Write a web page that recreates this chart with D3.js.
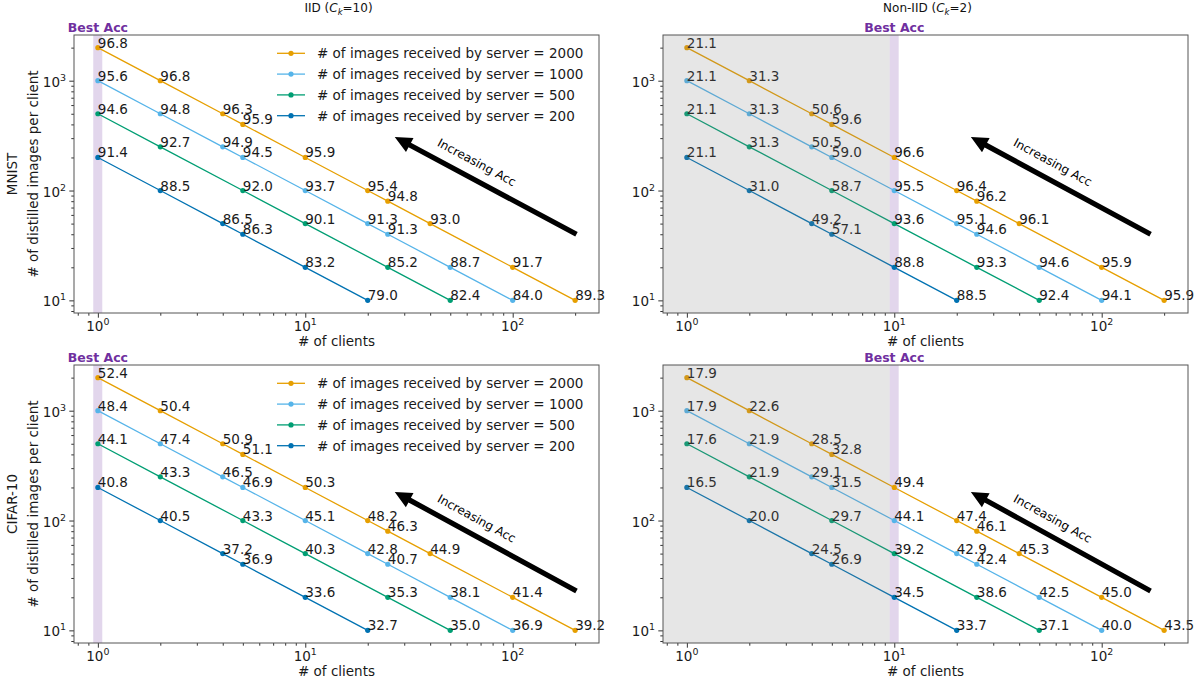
<!DOCTYPE html>
<html><head><meta charset="utf-8">
<script src="https://cdn.jsdelivr.net/npm/d3@7"></script>
<style>body{margin:0;background:#fff;} svg{display:block;font-family:"DejaVu Sans",sans-serif;}</style>
</head><body><svg id="c" width="1196" height="680"></svg>
<script>
// ---------- data ----------
const serverTotals = [2000, 1000, 500, 200];
const seriesColors = ["#E69F00", "#56B4E9", "#009E73", "#0072B2"];
const clients2000 = [1, 2, 4, 5, 10, 20, 25, 40, 100, 200];
const perClient2000 = [2000, 1000, 500, 400, 200, 100, 80, 50, 20, 10];
const clients1000 = [1, 2, 4, 5, 10, 20, 25, 50, 100];
const perClient1000 = [1000, 500, 250, 200, 100, 50, 40, 20, 10];
const clients500 = [1, 2, 5, 10, 25, 50];
const perClient500 = [500, 250, 100, 50, 20, 10];
const clients200 = [1, 2, 4, 5, 10, 20];
const perClient200 = [200, 100, 50, 40, 20, 10];

const accMnistIid = [
  [96.8, 96.8, 96.3, 95.9, 95.9, 95.4, 94.8, 93.0, 91.7, 89.3],
  [95.6, 94.8, 94.9, 94.5, 93.7, 91.3, 91.3, 88.7, 84.0],
  [94.6, 92.7, 92.0, 90.1, 85.2, 82.4],
  [91.4, 88.5, 86.5, 86.3, 83.2, 79.0]
];
const accMnistNonIid = [
  [21.1, 31.3, 50.6, 59.6, 96.6, 96.4, 96.2, 96.1, 95.9, 95.9],
  [21.1, 31.3, 50.5, 59.0, 95.5, 95.1, 94.6, 94.6, 94.1],
  [21.1, 31.3, 58.7, 93.6, 93.3, 92.4],
  [21.1, 31.0, 49.2, 57.1, 88.8, 88.5]
];
const accCifarIid = [
  [52.4, 50.4, 50.9, 51.1, 50.3, 48.2, 46.3, 44.9, 41.4, 39.2],
  [48.4, 47.4, 46.5, 46.9, 45.1, 42.8, 40.7, 38.1, 36.9],
  [44.1, 43.3, 43.3, 40.3, 35.3, 35.0],
  [40.8, 40.5, 37.2, 36.9, 33.6, 32.7]
];
const accCifarNonIid = [
  [17.9, 22.6, 28.5, 32.8, 49.4, 47.4, 46.1, 45.3, 45.0, 43.5],
  [17.9, 21.9, 29.1, 31.5, 44.1, 42.9, 42.4, 42.5, 40.0],
  [17.6, 21.9, 29.7, 39.2, 38.6, 37.1],
  [16.5, 20.0, 24.5, 26.9, 34.5, 33.7]
];

const xMajorTicks = [1, 10, 100];
const yMajorTicks = [10, 100, 1000];
const columnNames = ["IID", "Non-IID"];
const columnCk = ["10", "2"];
const rowNames = ["MNIST", "CIFAR-10"];
const bestClients = [1, 10];
const bestBand = [[0.95, 1.05], [9.5, 10.5]];
// arrows: [tailX, tailY, headX, headY, textX, textY] per panel (row, col)
const arrowTop = [[203, 40, 27, 307, 67, 180], [172, 40, 23.4, 307, 58, 180]];
const arrowBottom = [[203, 22.8, 27, 182, 67, 104], [172, 22.8, 23.4, 182, 58, 104]];

// ---------- layout ----------
const svg = d3.select("#c");
const cols = [{left: 74, width: 525}, {left: 663, width: 525}];
const rows = [{top: 35, height: 278}, {top: 365, height: 278}];
const seriesClients = [clients2000, clients1000, clients500, clients200];
const seriesPer = [perClient2000, perClient1000, perClient500, perClient200];
const panelAcc = [[accMnistIid, accMnistNonIid], [accCifarIid, accCifarNonIid]];
const panelArrows = [arrowTop, arrowBottom];

const FS = 13.5;
const xlo = Math.log10(1), xhi = Math.log10(200), xm = 0.05 * (xhi - xlo);
const ylo = Math.log10(10), yhi = Math.log10(2000), ym = 0.05 * (yhi - ylo);
const fmt = d3.format(".1f");

function minorTicks(lo, hi) {
  const out = [];
  for (let e = -1; e <= 4; e++) for (let m = 2; m <= 9; m++) {
    const v = m * Math.pow(10, e);
    if (v >= lo && v <= hi) out.push(v);
  }
  return out;
}

function powLabel(g, exp) {
  g.append("tspan").text("10");
  g.append("tspan").attr("font-size", FS * 0.7).attr("dy", -6).text(exp);
}

// column titles
columnNames.forEach((name, c) => {
  const t = svg.append("text").attr("x", cols[c].left + cols[c].width / 2 + 2).attr("y", 12)
    .attr("text-anchor", "middle").attr("font-size", 12).attr("fill", "#111");
  t.append("tspan").text(name + " (");
  t.append("tspan").attr("font-style", "italic").text("C");
  t.append("tspan").attr("font-style", "italic").attr("font-size", 8.5).attr("dy", 3).text("k");
  t.append("tspan").attr("dy", -3).text("=" + columnCk[c] + ")");
});

rows.forEach((R, r) => {
  cols.forEach((C, c) => {
    const x = d3.scaleLog().domain([Math.pow(10, xlo - xm), Math.pow(10, xhi + xm)]).range([C.left, C.left + C.width]);
    const y = d3.scaleLog().domain([Math.pow(10, ylo - ym), Math.pow(10, yhi + ym)]).range([R.top + R.height, R.top]);
    const g = svg.append("g");
    const acc = panelAcc[r][c];

    // best band
    g.append("rect").attr("x", x(bestBand[c][0])).attr("width", x(bestBand[c][1]) - x(bestBand[c][0]))
      .attr("y", R.top).attr("height", R.height).attr("fill", "#7030a0").attr("opacity", 0.2);

    // series
    serverTotals.forEach((tot, s) => {
      const pts = seriesClients[s].map((cl, i) => ({cx: cl, py: seriesPer[s][i], a: acc[s][i]}));
      g.append("path").datum(pts)
        .attr("d", d3.line().x(d => x(d.cx)).y(d => y(d.py)))
        .attr("fill", "none").attr("stroke", seriesColors[s]).attr("stroke-width", 1.3);
      g.selectAll(null).data(pts).enter().append("circle")
        .attr("cx", d => x(d.cx)).attr("cy", d => y(d.py)).attr("r", 2.6).attr("fill", seriesColors[s]);
      g.selectAll(null).data(pts).enter().append("text")
        .attr("x", d => x(d.cx)).attr("y", d => y(d.py)).attr("font-size", FS).attr("fill", "#1a1a1a")
        .text(d => fmt(d.a));
    });

    // non-iid gray overlay
    if (c === 1) {
      g.append("rect").attr("x", C.left).attr("width", x(bestBand[c][0]) - C.left)
        .attr("y", R.top).attr("height", R.height).attr("fill", "#808080").attr("opacity", 0.2);
    }

    // legend in IID panels
    if (c === 0) {
      serverTotals.forEach((tot, s) => {
        const ly = R.top + 18.3 + s * 20.8;
        g.append("line").attr("x1", C.left + 203).attr("x2", C.left + 231).attr("y1", ly).attr("y2", ly)
          .attr("stroke", seriesColors[s]).attr("stroke-width", 1.3);
        g.append("circle").attr("cx", C.left + 217).attr("cy", ly).attr("r", 2.6).attr("fill", seriesColors[s]);
        g.append("text").attr("x", C.left + 243).attr("y", ly).attr("dy", "0.36em").attr("font-size", FS)
          .attr("fill", "#1a1a1a").text("# of images received by server = " + tot);
      });
    }

    // arrow
    const A = panelArrows[r][c];
    const tx = x(A[0]), ty = y(A[1]), hx = x(A[2]), hy = y(A[3]);
    const L = Math.hypot(hx - tx, hy - ty), ux = (hx - tx) / L, uy = (hy - ty) / L, nx = -uy, ny = ux;
    const w = 2.6, hw = 8, hl = 17;
    const bx = hx - ux * hl, by = hy - uy * hl;
    const poly = [[tx + nx * w, ty + ny * w], [bx + nx * w, by + ny * w], [bx + nx * hw, by + ny * hw], [hx, hy],
      [bx - nx * hw, by - ny * hw], [bx - nx * w, by - ny * w], [tx - nx * w, ty - ny * w]];
    g.append("polygon").attr("points", poly.map(p => p.join(",")).join(" ")).attr("fill", "#000");
    const ang = Math.atan2(ty - hy, tx - hx) * 180 / Math.PI;
    g.append("text").attr("transform", `translate(${x(A[4])},${y(A[5])}) rotate(${ang})`)
      .attr("text-anchor", "middle").attr("dominant-baseline", "central").attr("font-size", 12).attr("fill", "#000")
      .text("Increasing Acc");

    // Best Acc label
    g.append("text").attr("x", x(bestClients[c])).attr("y", R.top - 3).attr("text-anchor", "middle")
      .attr("font-size", 12.5).attr("font-weight", "bold").attr("fill", "#7030a0").text("Best Acc");

    // axes
    const xa = g.append("g").attr("transform", `translate(0,${R.top + R.height})`)
      .call(d3.axisBottom(x).tickValues(xMajorTicks).tickSize(4.7).tickFormat(""));
    const xm2 = g.append("g").attr("transform", `translate(0,${R.top + R.height})`)
      .call(d3.axisBottom(x).tickValues(minorTicks(x.domain()[0], x.domain()[1])).tickSize(2.7).tickFormat(""));
    const ya = g.append("g").attr("transform", `translate(${C.left},0)`)
      .call(d3.axisLeft(y).tickValues(yMajorTicks).tickSize(4.7).tickFormat(""));
    const ym2 = g.append("g").attr("transform", `translate(${C.left},0)`)
      .call(d3.axisLeft(y).tickValues(minorTicks(y.domain()[0], y.domain()[1])).tickSize(2.7).tickFormat(""));
    [xa, xm2, ya, ym2].forEach(a => {
      a.select(".domain").remove();
      a.selectAll("line").attr("stroke", "#333").attr("stroke-width", 1);
    });
    xMajorTicks.forEach((v, i) => {
      const t = g.append("text").attr("x", x(v)).attr("y", R.top + R.height + 18).attr("text-anchor", "middle")
        .attr("font-size", FS).attr("fill", "#1a1a1a");
      powLabel(t, String(Math.round(Math.log10(v))));
    });
    yMajorTicks.forEach(v => {
      const t = g.append("text").attr("x", C.left - 8).attr("y", y(v) + 6).attr("text-anchor", "end")
        .attr("font-size", FS).attr("fill", "#1a1a1a");
      powLabel(t, String(Math.round(Math.log10(v))));
    });
    g.append("text").attr("x", C.left + C.width / 2).attr("y", R.top + R.height + 33).attr("text-anchor", "middle")
      .attr("font-size", FS).attr("fill", "#1a1a1a").text("# of clients");

    // frame
    g.append("rect").attr("x", C.left).attr("y", R.top).attr("width", C.width).attr("height", R.height)
      .attr("fill", "none").attr("stroke", "#555").attr("stroke-width", 1);

    // row labels
    if (c === 0) {
      const cy = R.top + R.height / 2;
      g.append("text").attr("transform", `translate(12,${cy}) rotate(-90)`).attr("text-anchor", "middle")
        .attr("dominant-baseline", "central").attr("font-size", FS).attr("fill", "#1a1a1a").text(rowNames[r]);
      g.append("text").attr("transform", `translate(33,${cy}) rotate(-90)`).attr("text-anchor", "middle")
        .attr("dominant-baseline", "central").attr("font-size", FS).attr("fill", "#1a1a1a").text("# of distilled images per client");
    }
  });
});
</script></body></html>
